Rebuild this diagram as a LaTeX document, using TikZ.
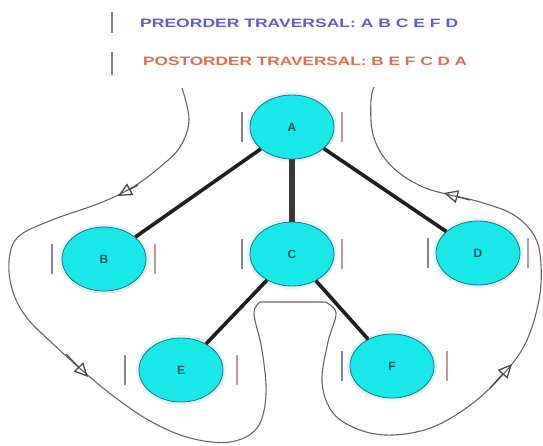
\documentclass[tikz,border=0pt]{standalone}
\usepackage{fontspec}
\setmainfont{Liberation Sans}
\usetikzlibrary{arrows.meta,shapes.geometric}
\definecolor{nodefill}{RGB}{24,232,232}
\definecolor{nodeline}{RGB}{30,120,125}
\definecolor{labelcol}{RGB}{25,85,95}
\definecolor{curvecol}{RGB}{105,98,102}
\definecolor{preblue}{RGB}{95,95,200}
\definecolor{postred}{RGB}{215,110,85}
\definecolor{barL}{RGB}{130,130,150}
\definecolor{barR}{RGB}{200,150,150}
\tikzset{
  treenode/.style={ellipse, minimum width=84pt, minimum height=64pt, inner sep=0pt,
    fill=nodefill, draw=nodeline, line width=0.8pt,
    preaction={draw=cyan!12, line width=6pt},
    font=\bfseries\large, text=labelcol},
  edgeline/.style={line width=3.6pt, draw=black!88},
  trunk/.style={line width=5.5pt, draw=black!78},
  leftbar/.style={line width=1.4pt, draw=barL},
  rightbar/.style={line width=1.4pt, draw=barR},
  tour/.style={line width=1.1pt, draw=curvecol},
  tourarrow/.style={line width=1.3pt, draw=black!70, -{Triangle[open,length=14pt,width=13pt]}},
  hdrbar/.style={line width=1.6pt, draw=barL}
}
\begin{document}
\begin{tikzpicture}[x=1pt,y=-1pt]
\fill[white] (0,0) rectangle (543,445);
\useasboundingbox (0,0) rectangle (543,445);

% header
\coordinate (h1a) at (112,12); \coordinate (h1b) at (112,33);
\coordinate (h2a) at (112,52); \coordinate (h2b) at (112,75);
\draw[hdrbar] (h1a) -- (h1b);
\draw[hdrbar] (h2a) -- (h2b);
\node[anchor=west, inner sep=0pt, text=preblue] (pre) at (140,23)
  {\resizebox{318pt}{8.5pt}{\bfseries PREORDER TRAVERSAL: A B C E F D}};
\node[anchor=west, inner sep=0pt, text=postred] (post) at (143,61)
  {\resizebox{324pt}{8.5pt}{\bfseries POSTORDER TRAVERSAL: B E F C D A}};

% traversal curve
\draw[tour] plot[smooth, tension=0.6] coordinates {
  (182,88) (189,120) (180,147) (160,167) (133,187) (100,203) (52,220) (18,237)
  (9,262) (13,292) (27,318) (52,343) (83,371) (112,395) (150,421) (190,438)
  (230,442) (257,428) (266,395) (262,350) (254,314) (260,302)}
  -- plot[smooth, tension=0.6] coordinates {
  (325,302) (336,313) (328,342) (322,382) (333,413) (360,430) (393,435)
  (433,427) (473,403) (507,370) (527,340) (539,300) (541,265) (535,237)
  (514,215) (480,202) (450,195) (423,187) (398,172) (381,153) (372,130)
  (371,100) (374,87)};

% arrowheads on the tour
\coordinate (t1a) at (138,185); \coordinate (t1b) at (118,196);
\coordinate (t2a) at (66,354);  \coordinate (t2b) at (88,377);
\coordinate (t3a) at (490,388); \coordinate (t3b) at (512,364);
\coordinate (t4a) at (470,200); \coordinate (t4b) at (444,193);
\draw[tourarrow] (t1a) -- (t1b);
\draw[tourarrow] (t2a) -- (t2b);
\draw[tourarrow] (t3a) -- (t3b);
\draw[tourarrow] (t4a) -- (t4b);

% nodes
\node[treenode] (A) at (292,127) {A};
\node[treenode] (B) at (104,259) {B};
\node[treenode] (C) at (292,254) {C};
\node[treenode] (D) at (478,253) {D};
\node[treenode] (E) at (181,370) {E};
\node[treenode] (F) at (392,366) {F};

% edges
\draw[edgeline] (A) -- (B);
\draw[trunk] (A) -- (C);
\draw[edgeline] (A) -- (D);
\draw[edgeline] (C) -- (E);
\draw[edgeline] (C) -- (F);

% visit bars
\foreach \n/\l/\r in {A/50/50, B/52/51, C/50/50, D/50/50, E/56/56, F/50/55}{
  \draw[leftbar]  ([xshift=-\l pt, yshift=15pt]\n.center) -- ([xshift=-\l pt, yshift=-15pt]\n.center);
  \draw[rightbar] ([xshift=\r pt, yshift=15pt]\n.center) -- ([xshift=\r pt, yshift=-15pt]\n.center);
}
\end{tikzpicture}
\end{document}
